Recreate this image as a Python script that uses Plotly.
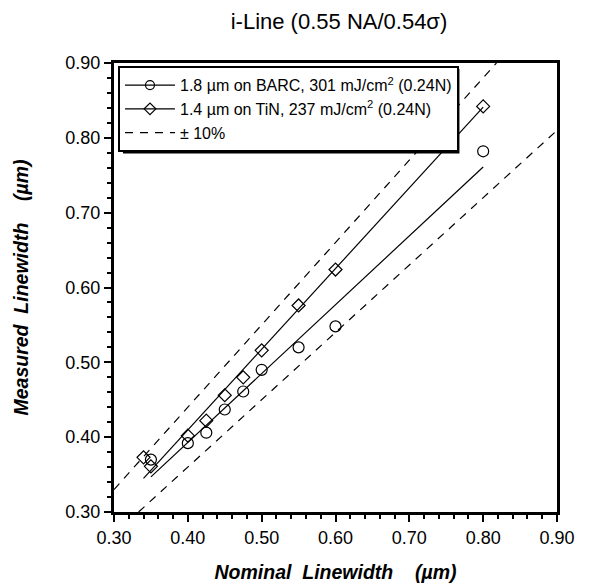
import plotly.graph_objects as go

# Measured data
barc_x = [0.35, 0.40, 0.425, 0.45, 0.475, 0.50, 0.55, 0.60, 0.80]
barc_y = [0.370, 0.392, 0.406, 0.437, 0.461, 0.490, 0.520, 0.548, 0.782]
tin_x = [0.34, 0.35, 0.40, 0.425, 0.45, 0.475, 0.50, 0.55, 0.60, 0.80]
tin_y = [0.373, 0.361, 0.402, 0.422, 0.456, 0.480, 0.516, 0.576, 0.624, 0.842]

# Fit lines (endpoints)
barc_fit_x = [0.35, 0.80]
barc_fit_y = [0.347, 0.761]
tin_fit_x = [0.34, 0.80]
tin_fit_y = [0.345, 0.841]

# +/-10% guide lines (None separates the two segments)
tol_x = [0.30, 0.818, None, 0.3333, 0.90]
tol_y = [0.33, 0.90, None, 0.30, 0.81]

tick_vals = [0.30, 0.40, 0.50, 0.60, 0.70, 0.80, 0.90]
tick_text = ["0.30", "0.40", "0.50", "0.60", "0.70", "0.80", "0.90"]

FONT = "Liberation Sans, Arial, Helvetica, sans-serif"
NB = "\u00a0"
GAP1 = NB + NB
GAP2 = NB * 4

# plot area in figure pixels (for placing the legend shadow)
L, T, W, H = 104, 55, 445, 451
OFF = 8  # page offset of the figure in the screenshot


def px_x(p):
    return (p - OFF - L) / W


def px_y(p):
    return 1 - (p - OFF - T) / H


fig = go.Figure()

# Legend-only entries
fig.add_trace(go.Scatter(x=[None], y=[None], mode="lines+markers",
                         name="1.8 \u00b5m on BARC, 301 mJ/cm<sup>2</sup> (0.24N)",
                         line=dict(color="black", width=1.2),
                         marker=dict(symbol="circle-open", size=9, color="black", line=dict(width=1.2))))
fig.add_trace(go.Scatter(x=[None], y=[None], mode="lines+markers",
                         name="1.4 \u00b5m on TiN, 237 mJ/cm<sup>2</sup> (0.24N)",
                         line=dict(color="black", width=1.2),
                         marker=dict(symbol="diamond-open", size=9, color="black", line=dict(width=1.2))))

fig.add_trace(go.Scatter(x=tol_x, y=tol_y, mode="lines", name="\u00b1 10%",
                         line=dict(color="black", width=1.2, dash="8px,7px")))

fig.add_trace(go.Scatter(x=barc_fit_x, y=barc_fit_y, mode="lines", showlegend=False,
                         line=dict(color="black", width=1.2)))
fig.add_trace(go.Scatter(x=tin_fit_x, y=tin_fit_y, mode="lines", showlegend=False,
                         line=dict(color="black", width=1.2)))

fig.add_trace(go.Scatter(x=barc_x, y=barc_y, mode="markers", showlegend=False,
                         marker=dict(symbol="circle-open", size=11, color="black", line=dict(width=1.2))))
fig.add_trace(go.Scatter(x=tin_x, y=tin_y, mode="markers", showlegend=False,
                         marker=dict(symbol="diamond-open", size=10, color="black", line=dict(width=1.2))))

axis_common = dict(
    showgrid=False, zeroline=False,
    showline=True, linecolor="black", linewidth=3, mirror=True,
    ticks="outside", ticklen=7, tickwidth=2, tickcolor="black",
    tickvals=tick_vals, ticktext=tick_text,
    tickfont=dict(family=FONT, size=18, color="black"),
    minor=dict(dtick=0.02, ticks="outside", ticklen=4, tickwidth=2, tickcolor="black", showgrid=False),
)

fig.update_layout(
    width=591, height=584,
    margin=dict(l=L, r=591 - L - W, t=T, b=584 - T - H),
    paper_bgcolor="white", plot_bgcolor="white",
    title=dict(text="i-Line (0.55 NA/0.54\u03c3)", x=331 / 591, xanchor="center",
               y=1 - 13 / 584, yanchor="middle",
               font=dict(family=FONT, size=22, color="black")),
    xaxis=dict(range=[0.30, 0.90],
               title=dict(text=f"<b><i>Nominal{GAP1}Linewidth{GAP2}(\u00b5m)</i></b>", standoff=19,
                          font=dict(family=FONT, size=19.5, color="black")),
               **axis_common),
    yaxis=dict(range=[0.30, 0.90],
               title=dict(text=f"<b><i>Measured{GAP1}Linewidth{GAP2}(\u00b5m)</i></b>", standoff=32,
                          font=dict(family=FONT, size=19.5, color="black")),
               **axis_common),
    legend=dict(x=0.009, y=0.993, xanchor="left", yanchor="top",
                bgcolor="white", bordercolor="black", borderwidth=2,
                font=dict(family=FONT, size=16, color="black"),
                itemwidth=50, tracegroupgap=0),
    shapes=[
        # drop shadow behind the legend box (legend is drawn on top of it)
        dict(type="rect", xref="paper", yref="paper", layer="above",
             x0=px_x(118 + 3), x1=px_x(455 + 4), y0=px_y(150 + 4), y1=px_y(66 + 3),
             fillcolor="black", line=dict(width=0)),
    ],
)

fig.write_html("out.html")
